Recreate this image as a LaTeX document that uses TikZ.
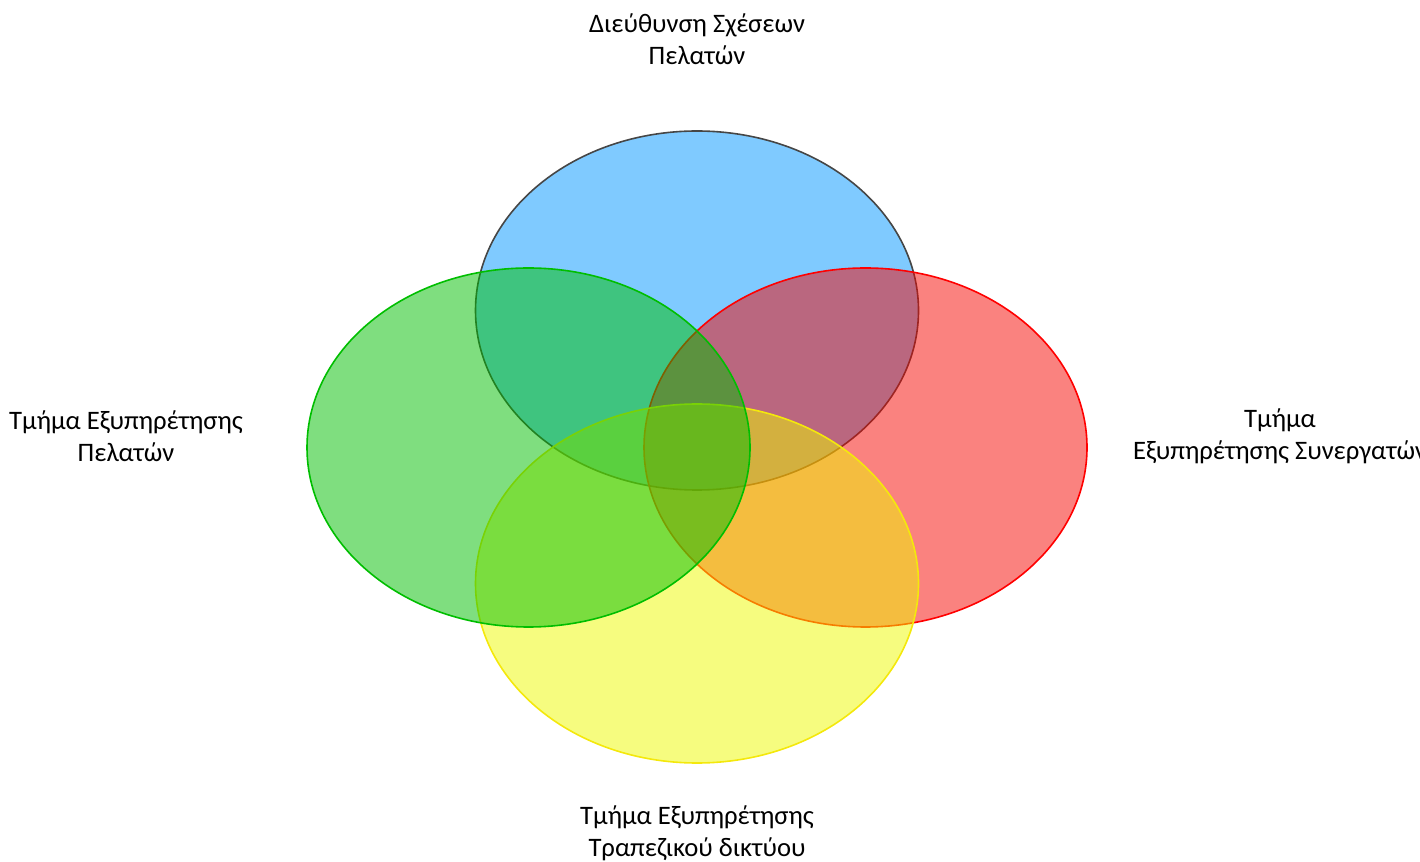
\documentclass[tikz,border=0pt]{standalone}
\usepackage{fontspec}
\setmainfont{Carlito}
\usepackage{tikz}
\usepackage{xcolor}

\definecolor{setblue}{RGB}{0,150,255}
\definecolor{setgreen}{RGB}{0,190,0}
\definecolor{setred}{RGB}{245,5,0}
\definecolor{setyellow}{RGB}{238,250,0}
\definecolor{rimgray}{RGB}{70,70,70}

\tikzset{
  setfill/.style={fill opacity=0.5, line width=1.2pt},
  label/.style={align=center, font=\fontsize{20}{24}\selectfont}
}

\begin{document}
\begin{tikzpicture}[x=0.75pt, y=0.75pt]
\def\RX{221.5}
\def\RY{179.5}

\useasboundingbox (0,0) rectangle (1420,861);

\draw[setfill, fill=setblue, draw=rimgray] (697,550.5) ellipse [x radius=\RX, y radius=\RY];
\draw[setfill, fill=setred, draw=red] (865.5,413.5) ellipse [x radius=\RX, y radius=\RY];
\draw[setfill, fill=setyellow, draw=yellow!95!black] (697,277.5) ellipse [x radius=\RX, y radius=\RY];
\draw[setfill, fill=setgreen, draw=setgreen] (528.5,413.5) ellipse [x radius=\RX, y radius=\RY];

\node[label] (crm) at (697,822) {Διεύθυνση Σχέσεων\\Πελατών};
\node[label] (customers) at (126,425) {Τμήμα Εξυπηρέτησης\\Πελατών};
\node[label] (partners) at (1280,425) {Τμήμα\\Εξυπηρέτησης Συνεργατών};
\node[label] (network) at (697,28) {Τμήμα Εξυπηρέτησης\\Τραπεζικού δικτύου};
\end{tikzpicture}
\end{document}
